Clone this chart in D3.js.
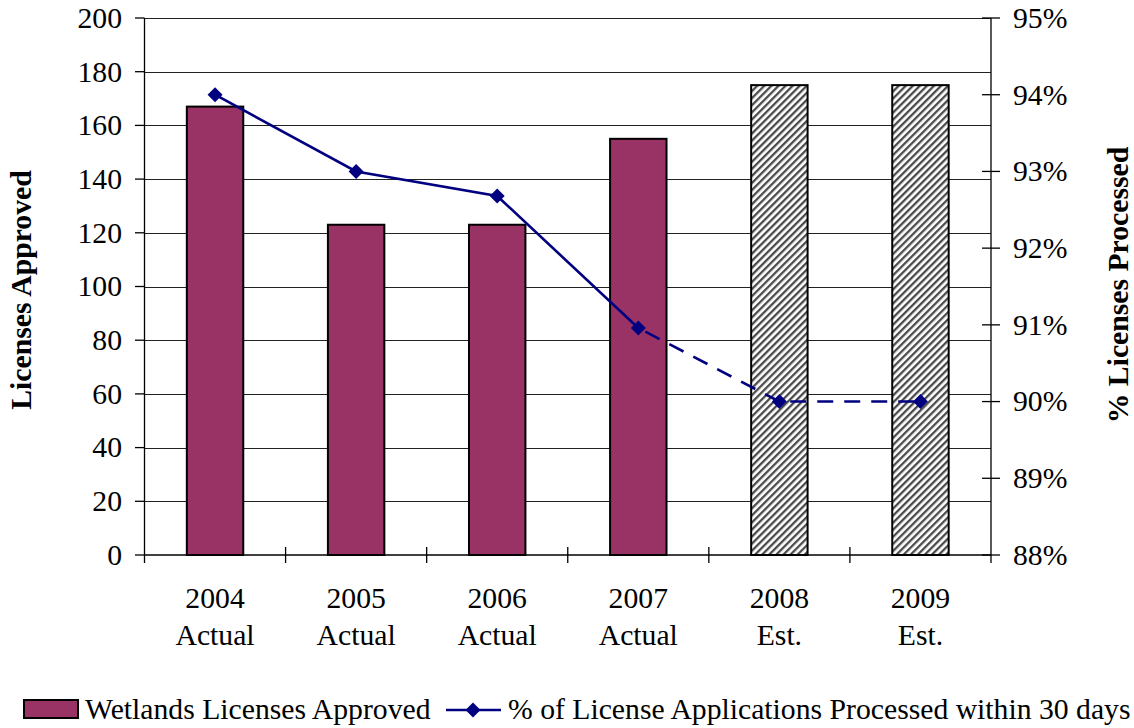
<!DOCTYPE html>
<html>
<head>
<meta charset="utf-8">
<script src="https://cdn.jsdelivr.net/npm/d3@7"></script>
<style>
  html, body { margin: 0; padding: 0; background: #fff; }
  svg { display: block; }
  text { font-family: "Liberation Serif", "Times New Roman", serif; fill: #000; }
</style>
</head>
<body>
<svg id="chart" width="1134" height="728"></svg>
<script>
// ---- data ----
const years = ["2004", "2005", "2006", "2007", "2008", "2009"];
const status = ["Actual", "Actual", "Actual", "Actual", "Est.", "Est."];
const licensesApproved = [167, 123, 123, 155, 175, 175];
const pctProcessed = [0.94, 0.93, 0.9268, 0.9096, 0.90, 0.90];
const leftTicks = [0, 20, 40, 60, 80, 100, 120, 140, 160, 180, 200];
const rightTicks = [0.88, 0.89, 0.90, 0.91, 0.92, 0.93, 0.94, 0.95];
const seriesNames = ["Wetlands Licenses Approved", "% of License Applications Processed within 30 days"];
const axisTitles = ["Licenses Approved", "% Licenses Processed"];

// ---- layout ----
const svg = d3.select("#chart");
const L = 144.5, R = 991, T = 18, B = 555;
const FS = 29.7;
const barColor = "#993366", lineColor = "#000080";

const x = d3.scaleBand().domain(years).range([L, R]).padding(0);
const step = x.bandwidth();
const yL = d3.scaleLinear().domain([0, 200]).range([B, T]);
const yR = d3.scaleLinear().domain([0.88, 0.95]).range([B, T]);

// hatch pattern
const defs = svg.append("defs");
const pat = defs.append("pattern")
  .attr("id", "hatch").attr("patternUnits", "userSpaceOnUse")
  .attr("width", 5).attr("height", 5)
  .attr("patternTransform", "rotate(45)");
pat.append("rect").attr("width", 5).attr("height", 5).attr("fill", "#fff");
pat.append("rect").attr("width", 2.3).attr("height", 5).attr("fill", "#4a4a4a");

// gridlines
svg.append("g").selectAll("line").data(leftTicks.filter(d => d > 0)).join("line")
  .attr("x1", L).attr("x2", R)
  .attr("y1", d => Math.round(yL(d)) + 0.5).attr("y2", d => Math.round(yL(d)) + 0.5)
  .attr("stroke", "#222").attr("stroke-width", 1);

// bars
const data = years.map((y, i) => ({ year: y, status: status[i], v: licensesApproved[i], p: pctProcessed[i] }));
svg.append("g").selectAll("rect").data(data).join("rect")
  .attr("x", d => x(d.year) + step * 0.3)
  .attr("width", step * 0.4)
  .attr("y", d => yL(d.v))
  .attr("height", d => yL(0) - yL(d.v))
  .attr("fill", d => d.status === "Est." ? "url(#hatch)" : barColor)
  .attr("stroke", "#000").attr("stroke-width", 2);

// axes lines
const ax = svg.append("g").attr("stroke", "#000").attr("stroke-width", 1.3);
ax.append("line").attr("x1", L).attr("x2", L).attr("y1", T).attr("y2", B + 8);
ax.append("line").attr("x1", R).attr("x2", R).attr("y1", T).attr("y2", B + 8);
ax.append("line").attr("x1", L).attr("x2", R).attr("y1", B).attr("y2", B);

// left ticks + labels
ax.selectAll(".lt").data(leftTicks).join("line").attr("class", "lt")
  .attr("x1", L - 9.5).attr("x2", L).attr("y1", d => yL(d)).attr("y2", d => yL(d));
svg.append("g").selectAll("text").data(leftTicks).join("text")
  .attr("x", 122).attr("y", d => yL(d) + 9.8)
  .attr("text-anchor", "end").attr("font-size", FS)
  .text(d => d);

// right ticks + labels
ax.selectAll(".rt").data(rightTicks).join("line").attr("class", "rt")
  .attr("x1", R - 9).attr("x2", R + 9).attr("y1", d => yR(d)).attr("y2", d => yR(d));
svg.append("g").selectAll("text").data(rightTicks).join("text")
  .attr("x", 1013).attr("y", d => yR(d) + 9.8)
  .attr("font-size", FS)
  .text(d => Math.round(d * 100) + "%");

// category boundary ticks
const bounds = years.map(y => x(y)).concat([R]);
ax.selectAll(".ct").data(bounds.slice(1, -1)).join("line").attr("class", "ct")
  .attr("x1", d => d).attr("x2", d => d).attr("y1", B - 8).attr("y2", B + 8);

// category labels
const cl = svg.append("g").selectAll("text").data(data).join("text")
  .attr("text-anchor", "middle").attr("font-size", FS);
cl.append("tspan").attr("x", d => x(d.year) + step / 2).attr("y", 608).text(d => d.year);
cl.append("tspan").attr("x", d => x(d.year) + step / 2).attr("y", 645).text(d => d.status);

// line
const cx = d => x(d.year) + step / 2;
const lineGen = d3.line().x(cx).y(d => yR(d.p));
const firstEst = status.indexOf("Est.");
const solid = data.slice(0, firstEst);
const dashed = data.slice(firstEst - 1);
svg.append("path").datum(solid).attr("d", lineGen)
  .attr("fill", "none").attr("stroke", lineColor).attr("stroke-width", 2.6);
svg.append("path").datum(dashed).attr("d", lineGen)
  .attr("fill", "none").attr("stroke", lineColor).attr("stroke-width", 2.6)
  .attr("stroke-dasharray", "16,11").attr("stroke-dashoffset", -8);
const diamond = "M0,-7.5L7.5,0L0,7.5L-7.5,0Z";
svg.append("g").selectAll("path").data(data).join("path")
  .attr("d", diamond)
  .attr("transform", d => `translate(${cx(d)},${yR(d.p)})`)
  .attr("fill", lineColor);

// axis titles
svg.append("text")
  .attr("transform", "translate(31,290) rotate(-90)")
  .attr("text-anchor", "middle").attr("font-size", FS).attr("font-weight", "bold")
  .text(axisTitles[0]);
svg.append("text")
  .attr("transform", "translate(1128,285) rotate(-90)")
  .attr("text-anchor", "middle").attr("font-size", FS).attr("font-weight", "bold")
  .text(axisTitles[1]);

// legend
const lg = svg.append("g");
lg.append("rect").attr("x", 24).attr("y", 700).attr("width", 54).attr("height", 18)
  .attr("fill", barColor).attr("stroke", "#000").attr("stroke-width", 2);
lg.append("text").attr("x", 85).attr("y", 719).attr("font-size", FS).text(seriesNames[0]);
lg.append("line").attr("x1", 446).attr("x2", 501).attr("y1", 710).attr("y2", 710)
  .attr("stroke", lineColor).attr("stroke-width", 2.6);
lg.append("path").attr("d", diamond).attr("transform", "translate(473,710)").attr("fill", lineColor);
lg.append("text").attr("x", 508).attr("y", 719).attr("font-size", FS).text(seriesNames[1]);
</script>
</body>
</html>
